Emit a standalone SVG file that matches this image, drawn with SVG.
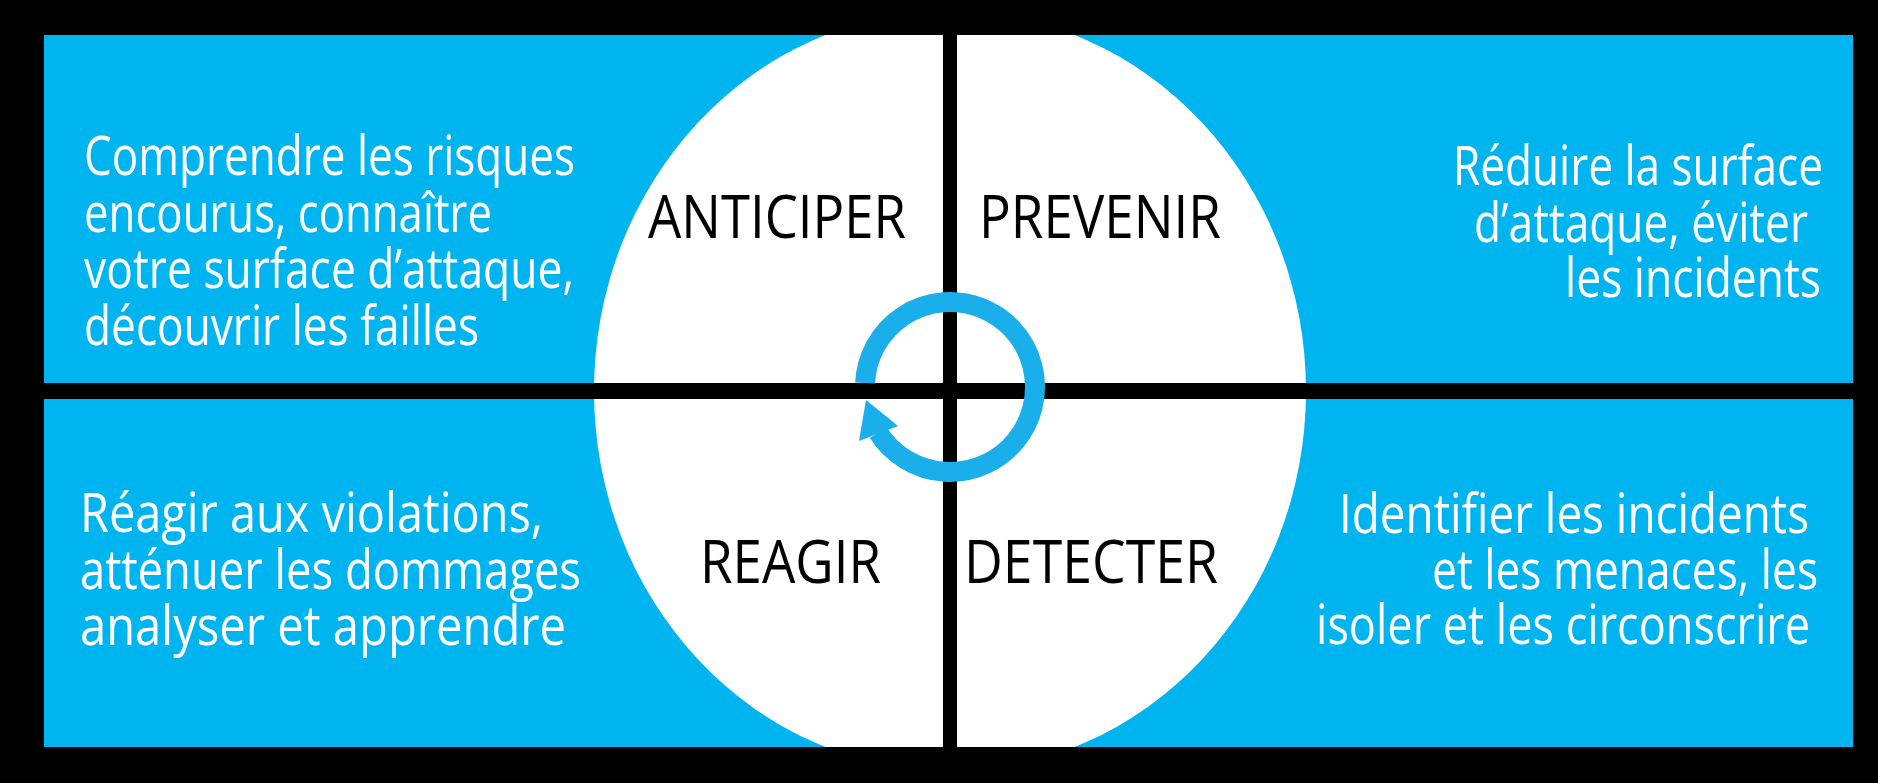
<svg xmlns="http://www.w3.org/2000/svg" width="1878" height="783" viewBox="0 0 1878 783">
  <defs>
    <clipPath id="panelClip">
      <rect x="44" y="35" width="1809" height="712"/>
    </clipPath>
    <style>
      .desc { font-family: "Open Sans", "Noto Sans", sans-serif; font-size: 55px; fill: #ffffff; }
      .right { text-anchor: end; }
      .label { font-family: "Open Sans", "Noto Sans", sans-serif; font-size: 60px; fill: #000000; }
      .bar { fill: #000000; }
      .ring { fill: none; stroke: #1aaeea; stroke-width: 20; }
      .head { fill: #1aaeea; }
    </style>
  </defs>

  <g id="background">
    <rect x="0" y="0" width="1878" height="783" fill="#000000"/>
    <rect x="44" y="35" width="1809" height="712" fill="#00b4ef"/>
    <ellipse cx="950" cy="391" rx="356" ry="380" fill="#ffffff" clip-path="url(#panelClip)"/>
  </g>

  <g id="dividers">
    <rect class="bar" x="44" y="383" width="1809" height="16"/>
    <rect class="bar" x="943" y="35" width="14" height="712"/>
  </g>

  <g id="connectors">
    <path class="ring" d="M 865.1 383 A 85 85 0 1 1 878.3 432.6"/>
    <polygon class="head" points="866,400 859,441 898,426"/>
  </g>

  <g id="anticiper">
    <text class="label" x="648" y="238" textLength="258" lengthAdjust="spacingAndGlyphs">ANTICIPER</text>
    <text class="desc" x="84" y="175" textLength="491" lengthAdjust="spacingAndGlyphs">Comprendre les risques</text>
    <text class="desc" x="84" y="232" textLength="408" lengthAdjust="spacingAndGlyphs">encourus, connaître</text>
    <text class="desc" x="84" y="288" textLength="490" lengthAdjust="spacingAndGlyphs">votre surface d’attaque,</text>
    <text class="desc" x="84" y="345" textLength="395" lengthAdjust="spacingAndGlyphs">découvrir les failles</text>
  </g>

  <g id="prevenir">
    <text class="label" x="979" y="238" textLength="242" lengthAdjust="spacingAndGlyphs">PREVENIR</text>
    <text class="desc right" x="1823" y="185" textLength="370" lengthAdjust="spacingAndGlyphs">Réduire la surface</text>
    <text class="desc right" x="1808" y="242" textLength="334" lengthAdjust="spacingAndGlyphs">d’attaque, éviter</text>
    <text class="desc right" x="1821" y="297" textLength="256" lengthAdjust="spacingAndGlyphs">les incidents</text>
  </g>

  <g id="reagir">
    <text class="label" x="700" y="583" textLength="181" lengthAdjust="spacingAndGlyphs">REAGIR</text>
    <text class="desc" x="80" y="532" textLength="463" lengthAdjust="spacingAndGlyphs">Réagir aux violations,</text>
    <text class="desc" x="80" y="589" textLength="501" lengthAdjust="spacingAndGlyphs">atténuer les dommages</text>
    <text class="desc" x="80" y="645" textLength="486" lengthAdjust="spacingAndGlyphs">analyser et apprendre</text>
  </g>

  <g id="detecter">
    <text class="label" x="964" y="583" textLength="254" lengthAdjust="spacingAndGlyphs">DETECTER</text>
    <text class="desc right" x="1809" y="533" textLength="470" lengthAdjust="spacingAndGlyphs">Identifier les incidents</text>
    <text class="desc right" x="1818" y="589" textLength="386" lengthAdjust="spacingAndGlyphs">et les menaces, les</text>
    <text class="desc right" x="1810" y="644" textLength="494" lengthAdjust="spacingAndGlyphs">isoler et les circonscrire</text>
  </g>
</svg>
